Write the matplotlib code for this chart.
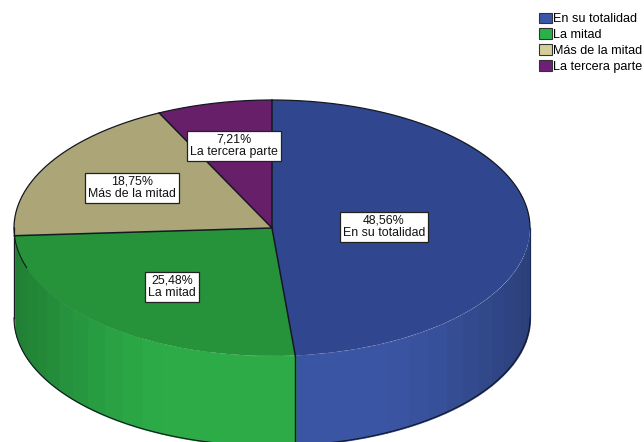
import numpy as np
import matplotlib
matplotlib.use("Agg")
import matplotlib.pyplot as plt
from matplotlib.patches import Patch
from matplotlib.colors import to_rgb

categories = ["En su totalidad", "La mitad", "Más de la mitad", "La tercera parte"]
values = [48.56, 25.48, 18.75, 7.21]
value_labels = ["48,56%", "25,48%", "18,75%", "7,21%"]

top_colors = ["#30478f", "#26933b", "#aca578", "#681f69"]
wall_colors = ["#3a55a3", "#2cab47", "#aca578", "#681f69"]
legend_colors = ["#3a56a8", "#2bb14a", "#d4cf98", "#6e2079"]
label_px = [(384, 227), (172, 287), (132, 188), (234, 146)]

W, H = 644, 442
CX, CY, RX, RY, DEPTH = 272.0, 228.0, 258.0, 128.0, 90.0
LINE = "#141820"

plt.rcParams["font.family"] = ["Liberation Sans", "DejaVu Sans"]
fig = plt.figure(figsize=(W / 100, H / 100), dpi=100)
ax = fig.add_axes([0, 0, 1, 1])
ax.pie(values, colors=top_colors, startangle=90, counterclock=False, radius=1,
       wedgeprops=dict(linewidth=0), normalize=True)
ax.set_aspect("auto")
ax.set_xlim(-CX / RX, (W - CX) / RX)
ax.set_ylim(-(H - CY) / RY, CY / RY)
ax.axis("off")


def px(x, y):
    return (x - CX) / RX, (CY - y) / RY


d = DEPTH / RY
edges = np.concatenate([[0], np.cumsum(values)]) / np.sum(values) * 360.0
for i in range(len(values)):
    lo, hi = max(edges[i], 90.0), min(edges[i + 1], 270.0)
    if hi <= lo:
        continue
    n = max(int((hi - lo) / 5), 1)
    steps = np.linspace(lo, hi, n + 1)
    base = np.array(to_rgb(wall_colors[i]))
    for a, b in zip(steps[:-1], steps[1:]):
        t = np.radians(np.linspace(a, b, 6))
        m = np.radians((a + b) / 2)
        # facet shading: brightest near the front, darker towards the sides
        shade = 1.0 - 0.26 * max(0.0, (abs(np.sin(m)) - 0.45) / 0.55) ** 1.3
        col = base * shade
        xs, ys = np.sin(t), np.cos(t)
        ax.fill_between(xs, ys, ys - d, facecolor=col, edgecolor=col, linewidth=0.8, zorder=0.5)

# Redraw the top's lower rim softly over the wall seams
for wedge in ax.patches:
    wedge.set_zorder(1)

# Outlines: back rim, slice radii, wall foot and the wall edges
arc_top = np.radians(np.linspace(270, 450, 300))
ax.plot(np.sin(arc_top), np.cos(arc_top), color=LINE, lw=0.9, zorder=2)
arc_left = np.radians(np.linspace(252, 270, 40))
ax.plot(np.sin(arc_left), np.cos(arc_left), color=LINE, lw=0.8, zorder=2)
for e in edges[:-1]:
    t = np.radians(e)
    ax.plot([0, np.sin(t)], [0, np.cos(t)], color=LINE, lw=1.1, zorder=2)
arc = np.radians(np.linspace(90, 270, 300))
ax.plot(np.sin(arc), np.cos(arc) - d, color=LINE, lw=0.8, zorder=2)
t = np.radians(edges[1])
ax.plot([np.sin(t)] * 2, [np.cos(t), np.cos(t) - d], color=LINE, lw=1.0, zorder=2)
ax.plot([-1, -1], [0, -d], color=LINE, lw=0.9, zorder=2)
ax.plot([1, 1], [0, -d], color="#1a2a55", lw=0.8, zorder=2)

for (x, y), v, c in zip(label_px, value_labels, categories):
    dx, dy = px(x, y)
    ax.text(dx, dy, f"{v}\n{c}", ha="center", va="center", fontsize=8.9, color="#111111",
            linespacing=1.05, zorder=5,
            bbox=dict(boxstyle="square,pad=0.22", fc="white", ec="#222222", lw=0.9))

handles = [Patch(facecolor=c, edgecolor="#333333", linewidth=0.8) for c in legend_colors]
fig.legend(handles, categories, loc="upper left", bbox_to_anchor=(539 / W, 1 - 12.5 / H),
           bbox_transform=fig.transFigure, frameon=False, fontsize=9.1, handlelength=1.0,
           handleheight=0.95, handletextpad=0.12, labelspacing=0.24, borderpad=0, borderaxespad=0)

fig.savefig("out.png", dpi=100)
